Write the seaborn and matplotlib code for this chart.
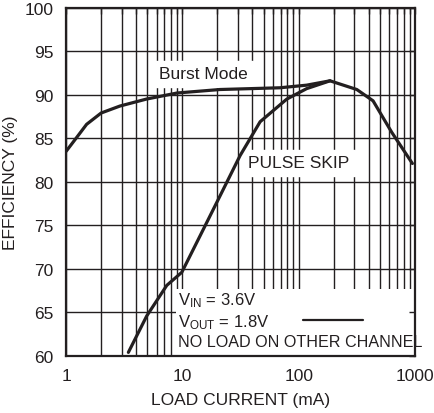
import matplotlib
matplotlib.use("Agg")
import matplotlib.pyplot as plt
import matplotlib.ticker as mticker
import pandas as pd
import seaborn as sns

# Efficiency vs load current
burst_x = [1, 1.25, 1.5, 2, 2.9, 4.9, 9, 21, 69, 117, 186, 316, 436, 630, 950]
burst_y = [83.5, 85.2, 86.6, 87.9, 88.7, 89.5, 90.2, 90.6, 90.8, 91.1, 91.6, 90.6, 89.3, 85.7, 82.1]

pulse_x = [3.43, 4.94, 7.34, 9.88, 14.2, 21.1, 31.3, 46.6, 79, 117, 186]
pulse_y = [60.4, 64.6, 68.1, 69.6, 73.8, 78.4, 83.0, 86.9, 89.5, 90.7, 91.6]

x_ticks = [1, 10, 100, 1000]
y_ticks = [60, 65, 70, 75, 80, 85, 90, 95, 100]

sns.set_style("white")
plt.rcParams["font.family"] = ["Liberation Sans", "DejaVu Sans"]
plt.rcParams["mathtext.fontset"] = "custom"
plt.rcParams["mathtext.rm"] = "Liberation Sans"
ink = "#231f20"

df = pd.concat([
    pd.DataFrame({"current": burst_x, "eff": burst_y, "mode": "Burst Mode"}),
    pd.DataFrame({"current": pulse_x, "eff": pulse_y, "mode": "PULSE SKIP"}),
])

fig = plt.figure(figsize=(4.35, 4.14), dpi=100)
rect = [0.152, 0.138, 0.802, 0.841]
ax = fig.add_axes(rect)

sns.lineplot(data=df, x="current", y="eff", units="mode", estimator=None,
             color=ink, linewidth=2.3, sort=False, ax=ax, zorder=3)

ax.set_xscale("log")
ax.set_xlim(1, 1000)
ax.set_ylim(60, 100)
ax.set_xticks(x_ticks)
ax.set_yticks(y_ticks)
ax.xaxis.set_major_formatter(mticker.FuncFormatter(lambda v, p: f"{v:g}"))
ax.xaxis.set_minor_locator(mticker.LogLocator(base=10, subs=range(2, 10)))
ax.xaxis.set_minor_formatter(mticker.NullFormatter())
ax.set_axisbelow(True)
ax.grid(True, which="both", color=ink, linewidth=1.0)
ax.tick_params(length=0, labelsize=12.5, colors=ink, pad=9)
for s in ax.spines.values():
    s.set_color(ink)
    s.set_linewidth(1.6)
    s.set_zorder(5)

ax.set_xlabel("LOAD CURRENT (mA)", fontsize=12.5, color=ink, labelpad=6)
ax.set_ylabel("EFFICIENCY (%)", fontsize=12.5, color=ink, labelpad=5)

# white box behind the conditions text
ax.add_patch(plt.Rectangle((0.315, 0.0), 0.685, 0.193, transform=ax.transAxes,
                           facecolor="white", edgecolor="none", zorder=1))
ax.plot([0.680, 0.852], [0.103, 0.103], transform=ax.transAxes,
        color=ink, linewidth=1.6, zorder=3)

ax.text(6.3, 92.4, "Burst Mode", fontsize=12.5, color=ink, va="center", ha="left",
        backgroundcolor="white", zorder=2)
ax.text(36.7, 82.2, "PULSE SKIP", fontsize=12.5, color=ink, va="center", ha="left",
        backgroundcolor="white", zorder=2)
ax.text(0.32, 0.162, r"$\mathrm{V_{IN}}$ = 3.6V", transform=ax.transAxes,
        fontsize=12, color=ink, va="center", zorder=4)
ax.text(0.32, 0.097, r"$\mathrm{V_{OUT}}$ = 1.8V", transform=ax.transAxes,
        fontsize=12, color=ink, va="center", zorder=4)
ax.text(0.32, 0.04, "NO LOAD ON OTHER CHANNEL", transform=ax.transAxes,
        fontsize=11.6, color=ink, va="center", zorder=4)

# overlay axes for the inward tick marks, drawn above the box
ax2 = fig.add_axes(rect, sharex=ax, sharey=ax, frameon=False)
ax2.patch.set_visible(False)
ax2.tick_params(which="both", direction="in", top=True, right=True, length=4,
                width=1.0, colors=ink, labelbottom=False, labelleft=False)
ax2.set_xlabel("")
ax2.set_ylabel("")

fig.savefig("out.png", dpi=100)
